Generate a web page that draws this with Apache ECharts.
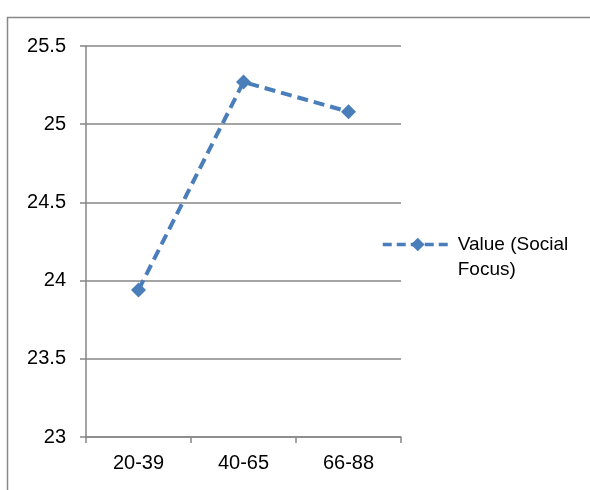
<!DOCTYPE html>
<html>
<head>
<meta charset="utf-8">
<script src="https://cdn.jsdelivr.net/npm/echarts@6/dist/echarts.min.js"></script>
<style>
html,body{margin:0;padding:0;background:#fff;}
#c{width:590px;height:490px;}
</style>
</head>
<body>
<div id="c"></div>
<script>
var categories = ['20-39', '40-65', '66-88'];
var socialFocus = [23.94, 25.27, 25.08];
var seriesName = 'Value (Social Focus)';

var chart = echarts.init(document.getElementById('c'));
var font = 'Liberation Sans';
chart.setOption({
  animation: false,
  backgroundColor: '#fff',
  graphic: [{
    type: 'rect', shape: {x: 7.5, y: 17.5, width: 700, height: 600},
    style: {fill: 'none', stroke: '#898989', lineWidth: 1.5}, silent: true
  }],
  grid: {left: 86, right: 189, top: 46, bottom: 53},
  legend: {
    left: 376, top: 202, orient: 'vertical',
    itemWidth: 70, itemHeight: 17,
    data: [seriesName],
    lineStyle: {width: 3.5, type: [9, 5], color: '#4A7EBB'},
    formatter: function () { return ' \nValue (Social\nFocus)'; },
    textStyle: {fontFamily: font, fontSize: 19, color: '#000', lineHeight: 25}
  },
  xAxis: {
    type: 'category', data: categories,
    axisLine: {lineStyle: {color: '#868686', width: 1.5}},
    axisTick: {show: true, length: 6, lineStyle: {color: '#868686', width: 1.5}},
    axisLabel: {fontFamily: font, fontSize: 20, color: '#000', margin: 16}
  },
  yAxis: {
    type: 'value', min: 23, max: 25.5, interval: 0.5,
    axisLine: {show: true, lineStyle: {color: '#868686', width: 1.5}},
    axisTick: {show: true, length: 6, lineStyle: {color: '#868686', width: 1.5}},
    splitLine: {show: true, lineStyle: {color: '#868686', width: 1.5}},
    axisLabel: {fontFamily: font, fontSize: 20, color: '#000', margin: 20}
  },
  series: [{
    name: seriesName, type: 'line', data: socialFocus,
    symbol: 'diamond', symbolSize: 15,
    lineStyle: {color: '#4A7EBB', width: 4, type: [11, 6]},
    itemStyle: {color: '#4A7EBB'}
  }]
});
</script>
</body>
</html>
